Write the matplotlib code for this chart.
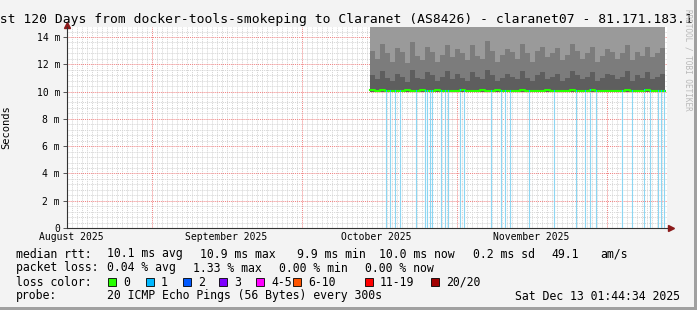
import numpy as np
import pandas as pd
import matplotlib
matplotlib.use("Agg")
import matplotlib.pyplot as plt
import matplotlib.dates as mdates

plt.rcParams['font.family'] = ['DejaVu Sans Mono']

# ---- data ----
win_start = pd.Timestamp('2025-08-15 01:44:34')
win_end = pd.Timestamp('2025-12-13 01:44:34')

# one smoke column per day, from the first sample on
day_start = pd.date_range('2025-10-14 18:00', periods=59, freq='D')
median_ms = [10.08, 10.05, 10.10, 10.06, 10.04, 10.07, 10.05, 10.09, 10.06, 10.05,
             10.08, 10.04, 10.06, 10.10, 10.05, 10.07, 10.06, 10.05, 10.08, 10.06,
             10.04, 10.07, 10.09, 10.05, 10.06, 10.08, 10.05, 10.07, 10.04, 10.06,
             10.09, 10.05, 10.07, 10.06, 10.05, 10.08, 10.06, 10.04, 10.07, 10.05,
             10.09, 10.06, 10.05, 10.07, 10.08, 10.05, 10.06, 10.04, 10.07, 10.06,
             10.05, 10.08, 10.06, 10.07, 10.05, 10.09, 10.06, 10.04, 10.07]
dark_top_ms = [11.2, 10.9, 11.5, 11.0, 10.8, 11.3, 11.1, 10.7, 11.6, 11.0,
               10.9, 11.4, 11.2, 10.8, 11.1, 11.5, 10.9, 11.3, 11.0, 10.8,
               11.4, 11.1, 10.9, 11.6, 11.2, 10.8, 11.0, 11.3, 11.1, 10.9,
               11.5, 11.0, 10.8, 11.2, 11.4, 10.9, 11.1, 11.3, 10.8, 11.0,
               11.5, 11.2, 10.9, 11.1, 11.4, 10.8, 11.0, 11.3, 11.2, 10.9,
               11.1, 11.5, 10.8, 11.2, 11.0, 11.4, 10.9, 11.1, 11.3]
mid_top_ms = [13.0, 12.4, 13.5, 12.8, 12.2, 13.2, 12.9, 12.1, 13.6, 12.6,
              12.3, 13.3, 12.9, 12.2, 12.7, 13.4, 12.5, 13.1, 12.8, 12.3,
              13.4, 12.6, 12.4, 13.7, 13.0, 12.2, 12.7, 13.1, 12.9, 12.4,
              13.5, 12.8, 12.2, 13.0, 13.3, 12.5, 12.8, 13.2, 12.3, 12.7,
              13.5, 13.0, 12.4, 12.8, 13.3, 12.2, 12.6, 13.1, 12.9, 12.4,
              12.8, 13.4, 12.3, 12.9, 12.6, 13.3, 12.5, 12.8, 13.2]

# samples with 1/20 lost pings (light blue)
loss_times = pd.to_datetime([
    '2025-10-17 19:40', '2025-10-18 17:45', '2025-10-19 16:20', '2025-10-20 17:45',
    '2025-10-23 19:40', '2025-10-25 16:20', '2025-10-26 02:00', '2025-10-26 17:45',
    '2025-10-27 03:20', '2025-10-28 21:00', '2025-10-29 16:20', '2025-10-30 05:15',
    '2025-11-01 17:45', '2025-11-02 13:00', '2025-11-07 21:00', '2025-11-09 21:00',
    '2025-11-10 16:20', '2025-11-11 15:00', '2025-11-15 11:30', '2025-11-20 13:00',
    '2025-11-24 19:40', '2025-11-26 16:20', '2025-11-27 17:45', '2025-11-28 19:40',
    '2025-12-04 00:30', '2025-12-06 00:30', '2025-12-08 10:00', '2025-12-09 17:45',
    '2025-12-11 08:10', '2025-12-11 21:00', '2025-12-12 10:00'])

y_ticks = [0, 2, 4, 6, 8, 10, 12, 14]
y_labels = ['0', '2 m', '4 m', '6 m', '8 m', '10 m', '12 m', '14 m']
month_labels = ['August 2025', 'September 2025', 'October 2025', 'November 2025']
month_label_pos = pd.to_datetime(['2025-08-16 00:00', '2025-09-15 20:00',
                                  '2025-10-15 20:00', '2025-11-15 20:00'])

loss_names = ['0', '1', '2', '3', '4-5', '6-10', '11-19', '20/20']
loss_colors = ['#26ff00', '#00b8ff', '#0059ff', '#7e00ff', '#ff00ff',
               '#ff5500', '#ff0000', '#a10000']

title = 'Last 120 Days from docker-tools-smokeping to Claranet (AS8426) - claranet07 - 81.171.183.1'

# ---- figure ----
W, H = 697, 310
fig = plt.figure(figsize=(W / 100, H / 100), dpi=100)
fig.patch.set_facecolor('#f3f3f3')
ax = fig.add_axes([67 / W, (H - 228) / H, 600 / W, 201 / H])
ax.set_facecolor('white')
ymax = 14.73
ax.set_xlim(win_start, win_end)
ax.set_ylim(0, ymax)

# grid
ax.xaxis.set_major_locator(mdates.MonthLocator())
ax.xaxis.set_minor_locator(mdates.DayLocator())
ax.yaxis.set_major_locator(matplotlib.ticker.FixedLocator(y_ticks))
ax.yaxis.set_minor_locator(matplotlib.ticker.MultipleLocator(0.4))
ax.grid(which='minor', color='#d4d4d4', lw=0.7, linestyle=(0, (1, 1)))
ax.grid(which='major', color='#f08080', lw=0.7, linestyle=(0, (1, 1)))
ax.set_axisbelow(True)

# smoke
ax.bar(day_start, np.array(dark_top_ms) - 10.0, bottom=10.0, width=1.0, align='edge',
       color='#5e5e5e', linewidth=0, zorder=2)
ax.bar(day_start, np.array(mid_top_ms) - np.array(dark_top_ms), bottom=dark_top_ms,
       width=1.0, align='edge', color='#7c7c7c', linewidth=0, zorder=2)
ax.bar(day_start, ymax + 1 - np.array(mid_top_ms), bottom=mid_top_ms, width=1.0,
       align='edge', color='#9a9a9a', linewidth=0, zorder=2)

# loss lines under the median
loss_med = np.interp(mdates.date2num(loss_times), mdates.date2num(day_start), median_ms)
ax.vlines(loss_times, 0, loss_med - 0.1, color='#8dd6f2', lw=0.8, zorder=3)

# median
ax.step(list(day_start) + [day_start[-1] + pd.Timedelta(days=1)],
        median_ms + [median_ms[-1]], where='post', color=loss_colors[0], lw=1.5, zorder=4)
ax.hlines(loss_med, loss_times, loss_times + pd.Timedelta(hours=5),
          color=loss_colors[1], lw=1.5, zorder=5)

# axes look
for s in ['top', 'right']:
    ax.spines[s].set_visible(False)
for s in ['left', 'bottom']:
    ax.spines[s].set_color('#333333')
    ax.spines[s].set_linewidth(0.8)
ax.tick_params(which='both', length=0, labelsize=7)
ax.tick_params(axis='y', which='major', length=3, width=0.7, color='#555555', pad=2)
ax.set_yticklabels(y_labels)
ax.set_xticklabels([])
for lab, pos in zip(month_labels, month_label_pos):
    ax.text(pos, -9 / 201, lab, transform=ax.get_xaxis_transform(), ha='center',
            va='center', fontsize=7)
ax.plot([1.006], [0], marker='>', color='#8b1a1a', ms=5, transform=ax.transAxes,
        clip_on=False)
ax.plot([0], [1.01], marker='^', color='#8b1a1a', ms=5, transform=ax.transAxes,
        clip_on=False)
ax.set_ylabel('Seconds', fontsize=7.5, labelpad=6)
ax.yaxis.set_label_coords(-56 / 600, 0.5)

# title and watermark
fig.text(-16 / W, 1 - 19 / H, title, ha='left', va='center', fontsize=9.4)
fig.text(688 / W, 1 - 60 / H, 'RRDTOOL / TOBI OETIKER', rotation=270, ha='center',
         va='center', fontsize=5.5, color='#b8b8b8')

# legend rows
fs = 8.3
y1, y2, y3, y4 = 254, 268, 282, 296
def put(x, y, s, **kw):
    fig.text(x / W, 1 - y / H, s, ha='left', va='center', fontsize=fs, **kw)

put(16, y1, 'median rtt:')
for x, s in zip([107, 200, 297, 379, 473, 551, 600],
                ['10.1 ms avg', '10.9 ms max', '9.9 ms min', '10.0 ms now',
                 '0.2 ms sd', '49.1', 'am/s']):
    put(x, y1, s)
put(16, y2, 'packet loss:')
for x, s in zip([107, 193, 279, 365],
                ['0.04 % avg', '1.33 % max', '0.00 % min', '0.00 % now']):
    put(x, y2, s)
put(16, y3, 'loss color:')
for x, name, c in zip([108, 146, 183, 219, 256, 293, 365, 431], loss_names, loss_colors):
    fig.patches.append(plt.Rectangle((x / W, 1 - (y3 + 4) / H), 8 / W, 8 / H,
                                     transform=fig.transFigure, facecolor=c,
                                     edgecolor='black', lw=0.6))
    put(x + 15, y3, name)
put(16, y4, 'probe:')
put(107, y4, '20 ICMP Echo Pings (56 Bytes) every 300s')
fig.text(680 / W, 1 - y4 / H, 'Sat Dec 13 01:44:34 2025', ha='right', va='center',
         fontsize=fs)

# 3d frame
fig.patches.append(plt.Rectangle((0, 0), 1, 3 / H, transform=fig.transFigure,
                                 facecolor='#a0a0a0', lw=0))
fig.patches.append(plt.Rectangle((1 - 3 / W, 0), 3 / W, 1, transform=fig.transFigure,
                                 facecolor='#a0a0a0', lw=0))

fig.savefig('out.png', dpi=100, facecolor=fig.get_facecolor())
